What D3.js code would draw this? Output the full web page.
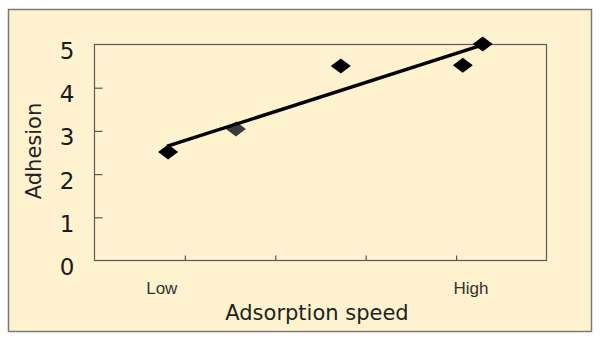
<!DOCTYPE html>
<html>
<head>
<meta charset="utf-8">
<script src="https://cdn.jsdelivr.net/npm/d3@7/dist/d3.min.js"></script>
<style>
  html, body { margin: 0; padding: 0; background: #ffffff; }
  svg { display: block; }
</style>
</head>
<body>
<svg id="chart" width="600" height="340"></svg>
<script>
// ---- data ----
const speedValues = [0.82, 1.57, 2.73, 4.08, 4.30];
const adhesionValues = [2.50, 3.03, 4.49, 4.51, 5.00];
const trendX = [0.82, 4.30];
const trendY = [2.64, 4.98];
const yTickValues = [0, 1, 2, 3, 4, 5];
const xTickValues = [1, 2, 3, 4];
const xCategoryLabels = ["Low", "High"];
const xCategoryAt = [0.75, 4.17];
const xTitle = "Adsorption speed";
const yTitle = "Adhesion";

// ---- drawing ----
const svg = d3.select("#chart");
const bg = "#fff2cf";

svg.append("rect")
  .attr("x", 8.5).attr("y", 9.5).attr("width", 583).attr("height", 322)
  .attr("fill", bg).attr("stroke", "#7a7a7a").attr("stroke-width", 1.5);

const x = d3.scaleLinear().domain([0, 5]).range([94, 546]);
const y = d3.scaleLinear().domain([0, 5]).range([260, 44]);

// plot frame
svg.append("rect")
  .attr("x", x(0) + 0.5).attr("y", y(5) + 0.5)
  .attr("width", x(5) - x(0)).attr("height", y(0) - y(5))
  .attr("fill", bg).attr("stroke", "#5a5a5a").attr("stroke-width", 1.2);

// y axis (ticks inward)
const yAxis = d3.axisRight(y).tickValues([1, 2, 3, 4]).tickSize(8).tickFormat("");
const gy = svg.append("g").attr("transform", `translate(${x(0) + 0.5},0.5)`).call(yAxis);
gy.select(".domain").remove();
gy.selectAll(".tick line").attr("stroke", "#5a5a5a").attr("stroke-width", 1.2);

// y tick labels
svg.append("g").selectAll("text").data(yTickValues).join("text")
  .attr("x", 67).attr("y", d => y(d) + 15)
  .attr("text-anchor", "middle")
  .attr("font-family", "DejaVu Sans, Verdana, sans-serif")
  .attr("font-size", 23)
  .attr("fill", "#1a1a1a")
  .text(d => d);

// x axis (ticks inward)
const xAxis = d3.axisTop(x).tickValues(xTickValues).tickSize(5).tickFormat("");
const gx = svg.append("g").attr("transform", `translate(0.5,${y(0) + 0.5})`).call(xAxis);
gx.select(".domain").remove();
gx.selectAll(".tick line").attr("stroke", "#5a5a5a").attr("stroke-width", 1.2);

// x category labels
svg.append("g").selectAll("text").data(xCategoryLabels).join("text")
  .attr("x", (d, i) => x(xCategoryAt[i])).attr("y", 294)
  .attr("text-anchor", "middle")
  .attr("font-family", "Liberation Sans, Arial, sans-serif")
  .attr("font-size", 17)
  .attr("fill", "#333")
  .text(d => d);

// titles
svg.append("text")
  .attr("x", 317).attr("y", 320)
  .attr("text-anchor", "middle")
  .attr("font-family", "DejaVu Sans, Verdana, sans-serif")
  .attr("font-size", 21)
  .attr("fill", "#222")
  .text(xTitle);

svg.append("text")
  .attr("transform", "translate(41,151) rotate(-90)")
  .attr("text-anchor", "middle")
  .attr("font-family", "DejaVu Sans, Verdana, sans-serif")
  .attr("font-size", 21)
  .attr("fill", "#222")
  .text(yTitle);

// points
const pts = speedValues.map((v, i) => [v, adhesionValues[i]]);
const dw = 10, dh = 7.5;
svg.append("g").selectAll("path").data(pts).join("path")
  .attr("d", d => {
    const cx = x(d[0]), cy = y(d[1]);
    return `M${cx - dw},${cy}L${cx},${cy - dh}L${cx + dw},${cy}L${cx},${cy + dh}Z`;
  })
  .attr("fill", (d, i) => i === 1 ? "#3c3c3c" : "#000");

// trend line
const trend = trendX.map((v, i) => [v, trendY[i]]);
svg.append("path")
  .datum(trend)
  .attr("d", d3.line().x(d => x(d[0])).y(d => y(d[1])))
  .attr("fill", "none").attr("stroke", "#000").attr("stroke-width", 3.4)
  .attr("stroke-linecap", "round");
</script>
</body>
</html>
